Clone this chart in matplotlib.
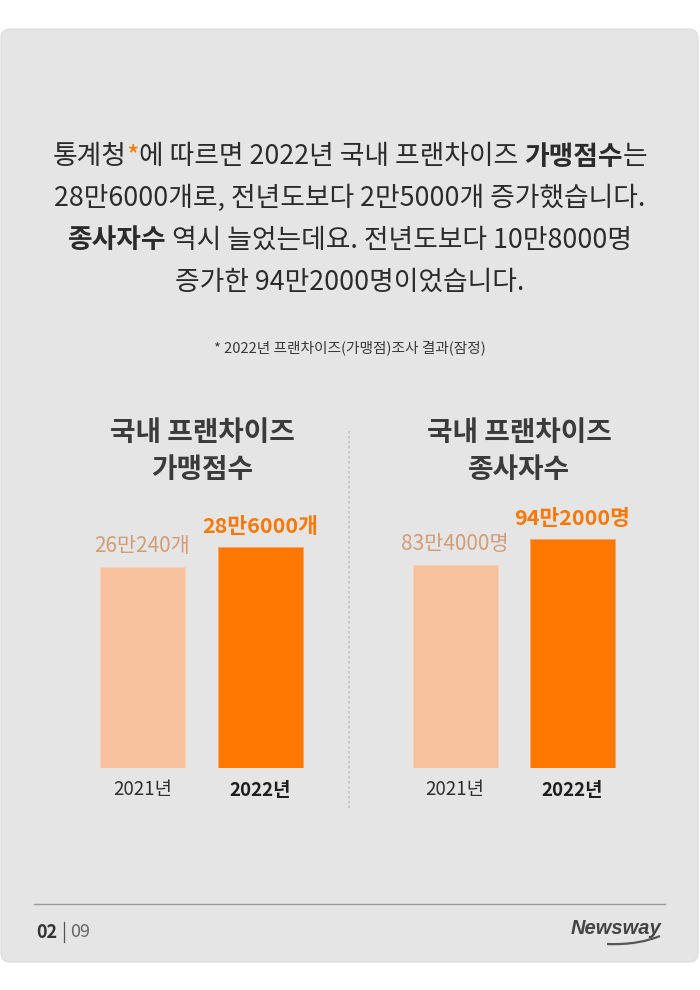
import matplotlib.pyplot as plt
from matplotlib.patches import FancyBboxPatch, PathPatch
from matplotlib.path import Path

plt.rcParams['font.family'] = ['Noto Sans CJK KR', 'DejaVu Sans']

years = ["2021년", "2022년"]
stores = [260240, 286000]
store_labels = ["26만240개", "28만6000개"]
workers = [834000, 942000]
worker_labels = ["83만4000명", "94만2000명"]

chart_titles = [["국내 프랜차이즈", "가맹점수"], ["국내 프랜차이즈", "종사자수"]]
body_lines = [
    [("통계청", "normal", "#2b2b2b"), ("*", "normal", "#ff7800"),
     ("에 따르면 2022년 국내 프랜차이즈 ", "normal", "#2b2b2b"),
     ("가맹점수", "bold", "#2b2b2b"), ("는", "normal", "#2b2b2b")],
    [("28만6000개로, 전년도보다 2만5000개 증가했습니다.", "normal", "#2b2b2b")],
    [("종사자수", "bold", "#2b2b2b"),
     (" 역시 늘었는데요. 전년도보다 10만8000명", "normal", "#2b2b2b")],
    [("증가한 94만2000명이었습니다.", "normal", "#2b2b2b")],
]
footnote = "* 2022년 프랜차이즈(가맹점)조사 결과(잠정)"

light = "#f6c19b"
orange = "#ff7800"
light_txt = "#d39d78"

W, H = 700, 990
fig = plt.figure(figsize=(W / 100, H / 100), dpi=100)
fig.patch.set_facecolor("white")

bg = fig.add_axes([0, 0, 1, 1])
bg.set_xlim(0, W)
bg.set_ylim(H, 0)
bg.axis("off")

card = FancyBboxPatch((1, 29), 697, 933, boxstyle="round,pad=0,rounding_size=9",
                      facecolor="#e5e5e5", edgecolor="#dcdcdc", lw=0.8)
bg.add_patch(card)

# body paragraph, each line built from styled pieces and centred
renderer = fig.canvas.get_renderer()
line_y = [157, 198, 240, 282]
for y, parts in zip(line_y, body_lines):
    texts = []
    for s, wt, c in parts:
        t = bg.text(0, y, s, fontsize=19.3, fontweight=wt, color=c,
                    ha="left", va="center")
        texts.append(t)
    widths = [t.get_window_extent(renderer).width for t in texts]
    x = W / 2 - sum(widths) / 2
    for t, w in zip(texts, widths):
        t.set_x(x)
        x += w

bg.text(350, 348, footnote, fontsize=10.6, color="#3a3a3a", ha="center", va="center")

# vertical dotted divider
bg.plot([349, 349], [431, 808], color="#c4c4c4", lw=1.2, ls=(0, (1.5, 1.5)))

# titles
for cx, lines in zip([202, 519], chart_titles):
    bg.text(cx, 433, lines[0], fontsize=20, fontweight="bold", color="#3b3b3b",
            ha="center", va="center")
    bg.text(cx, 470, lines[1], fontsize=20, fontweight="bold", color="#3b3b3b",
            ha="center", va="center")


def bar_panel(left_px, centre_px, values, labels, ymax):
    # axes spanning pixel rows 500..768, with bar centres at centre_px
    top, bottom = 500, 768
    right_px = left_px + 240
    ax = fig.add_axes([left_px / W, 1 - bottom / H, 240 / W, (bottom - top) / H])
    ax.set_facecolor("none")
    step = 117.5
    ax.set_xlim((left_px - centre_px) / step, (right_px - centre_px) / step)
    ax.set_ylim(0, ymax)
    ax.axis("off")
    ax.bar([0, 1], values, width=85 / step, color=[light, orange],
           edgecolor=["#f9d3b6", "#ffa460"], linewidth=0.6)
    ax.annotate(labels[0], (0, values[0]), xytext=(0, 10), textcoords="offset pixels",
                ha="center", va="bottom", fontsize=15, fontweight="light",
                color=light_txt)
    ax.annotate(labels[1], (1, values[1]), xytext=(0, 10), textcoords="offset pixels",
                ha="center", va="bottom", fontsize=15.5, fontweight="bold",
                color=orange)
    for i, (yr, wt) in enumerate(zip(years, ["normal", "bold"])):
        ax.annotate(yr, (i, 0), xytext=(0, -22), textcoords="offset pixels",
                    ha="center", va="center", fontsize=13.5, fontweight=wt,
                    color="#2e2e2e" if wt == "normal" else "#1e1e1e",
                    annotation_clip=False)
    return ax


bar_panel(80, 142.5, stores, store_labels, 286000 * 268 / 221)
bar_panel(393, 455, workers, worker_labels, 942000 * 268 / 229)

# footer
bg.plot([34, 665], [904, 904], color="#9a9a9a", lw=1)
bg.text(36, 932, "02", fontsize=13, fontweight="bold", color="#333333",
        ha="left", va="center")
bg.plot([64, 64], [922, 942], color="#555555", lw=0.9)
bg.text(70, 932, "09", fontsize=13, fontweight="light", color="#666666",
        ha="left", va="center")
bg.text(661, 928, "Newsway", fontsize=14.5, fontweight="bold", style="italic",
        family="Liberation Sans", color="#444444", ha="right", va="center")
swoosh = Path([(607, 944), (630, 945), (648, 941), (660, 936)],
              [Path.MOVETO, Path.CURVE4, Path.CURVE4, Path.CURVE4])
bg.add_patch(PathPatch(swoosh, facecolor="none", edgecolor="#555555", lw=1.6))

fig.savefig("out.png", dpi=100, facecolor="white")
